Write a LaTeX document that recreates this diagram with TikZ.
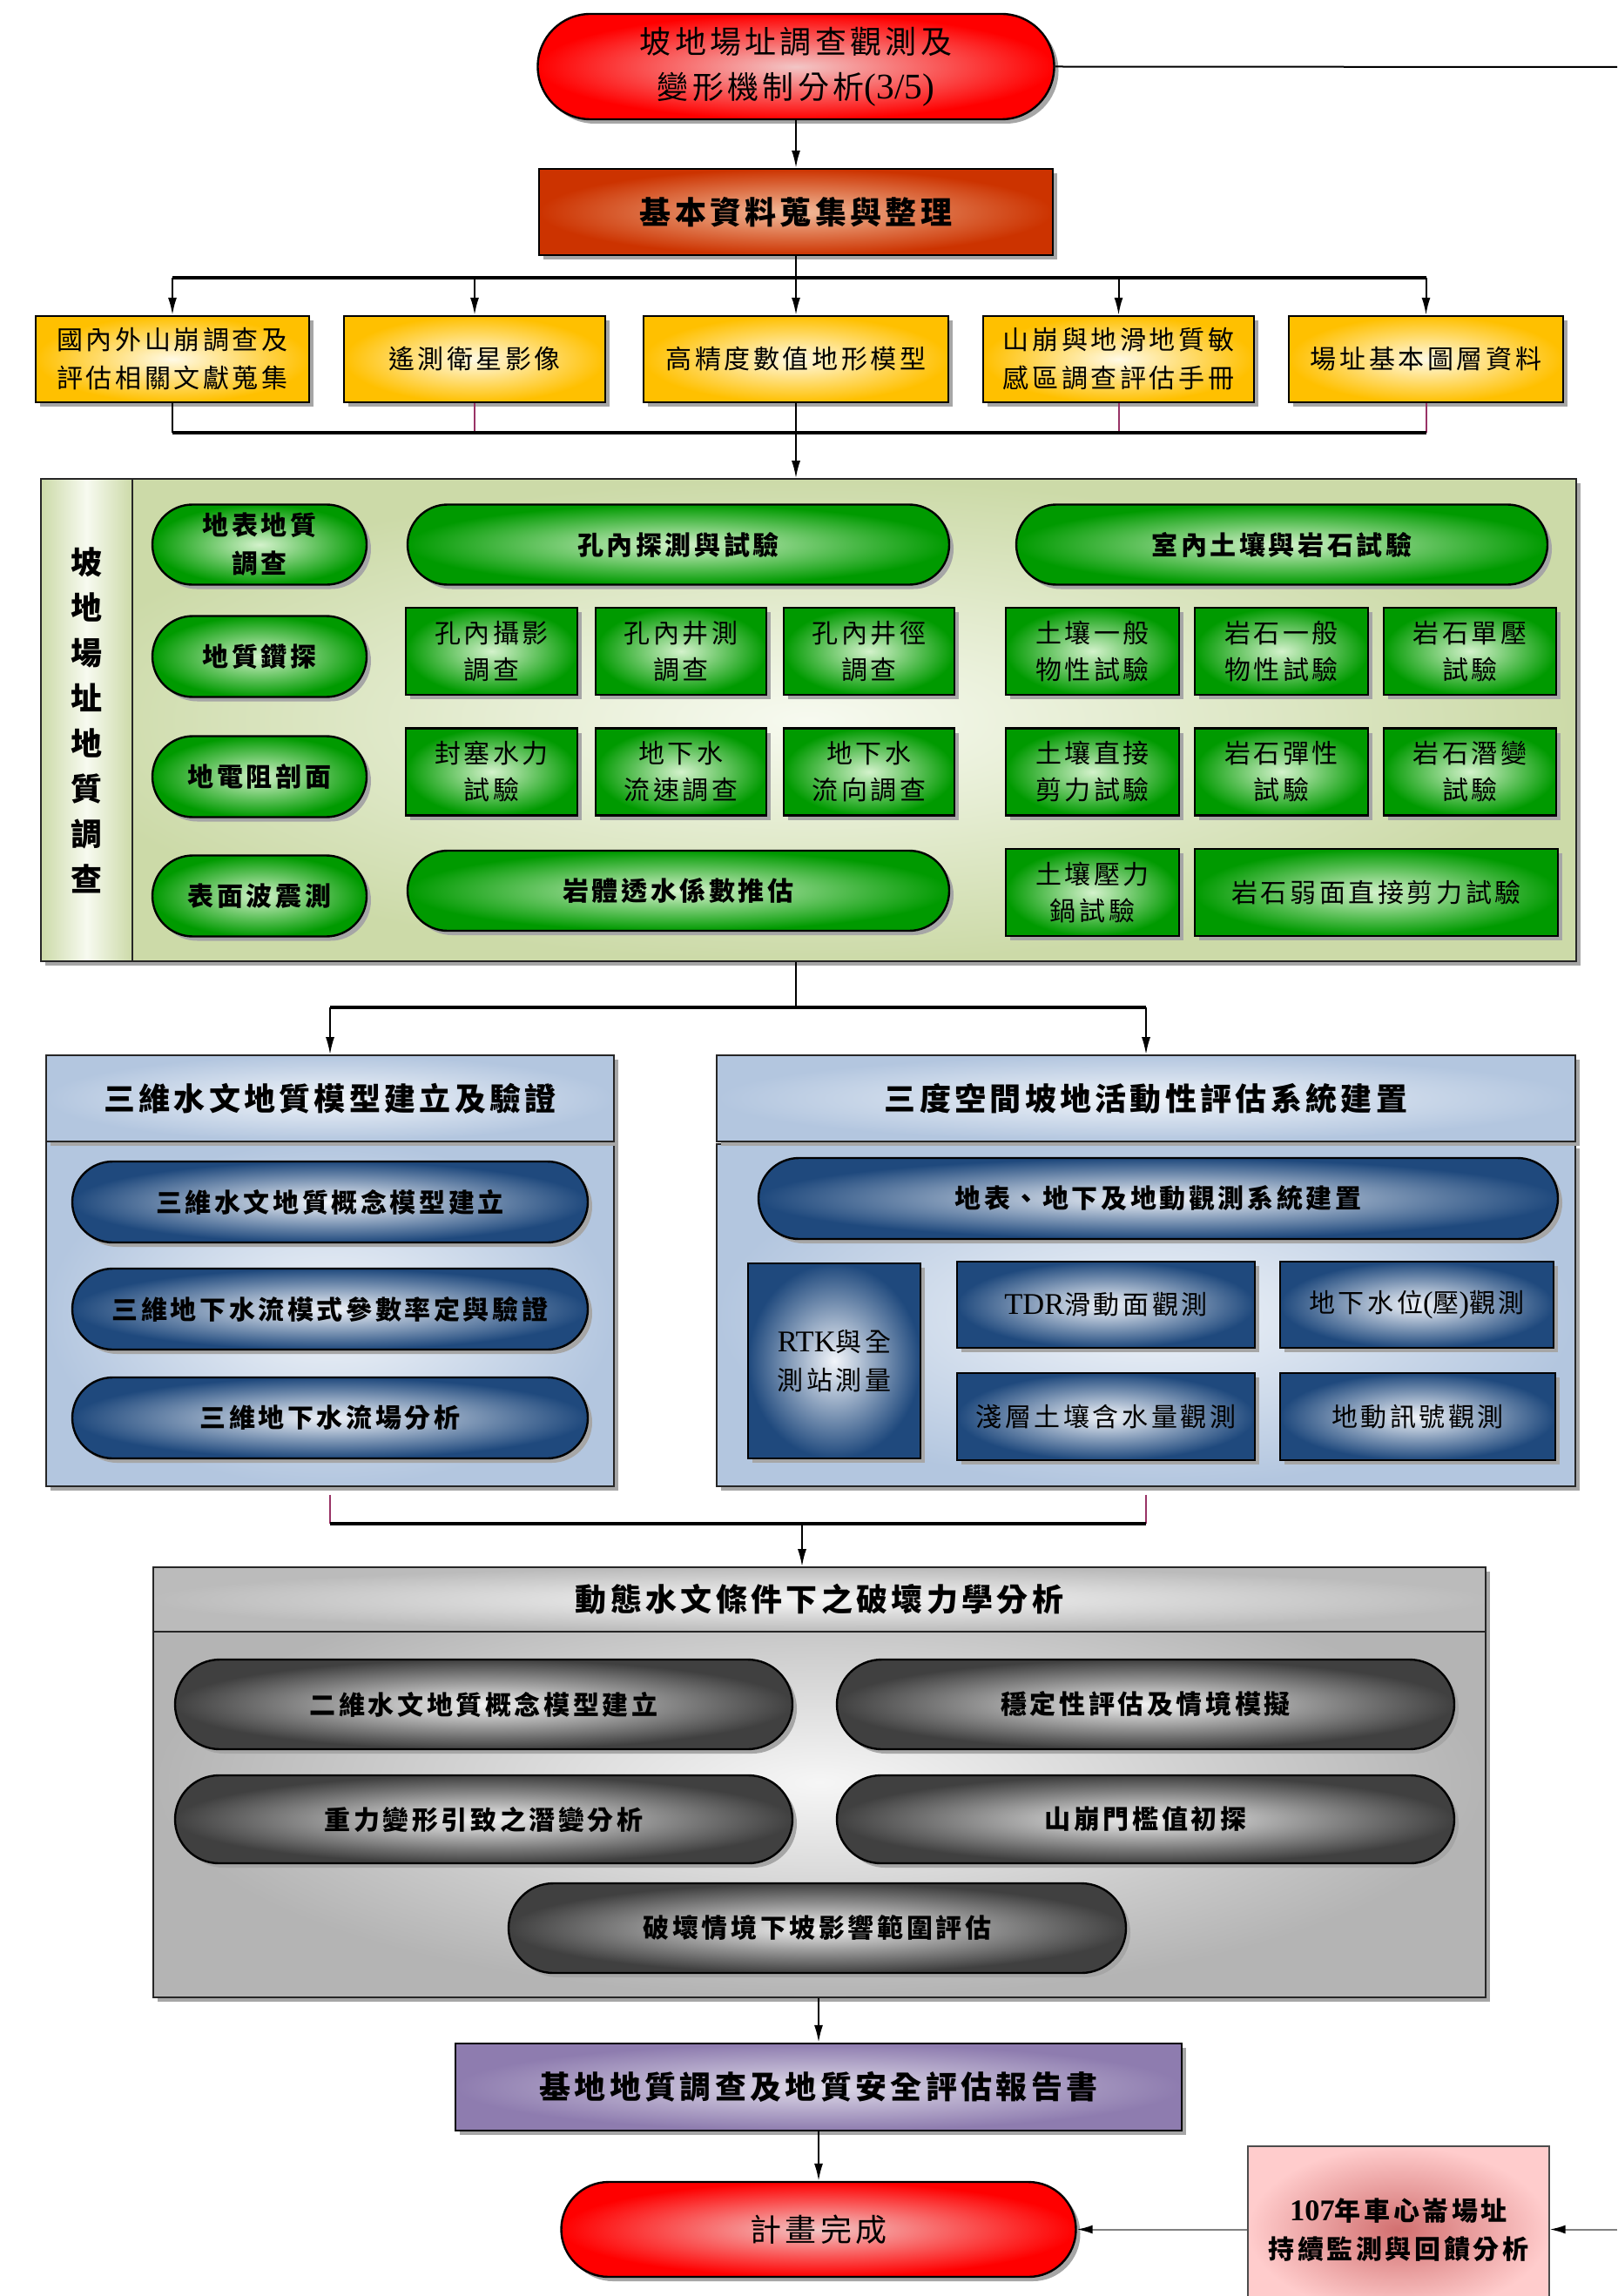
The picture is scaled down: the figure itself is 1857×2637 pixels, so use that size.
\documentclass[tikz,border=0pt]{standalone}
\usepackage{fontspec}
\setmainfont{Liberation Serif}
\newfontfamily\cjk[LetterSpace=12]{Noto Sans CJK TC}
\newfontfamily\latf[Scale=1.15]{Liberation Serif}
\usetikzlibrary{shapes.misc,shadows,arrows.meta}
\newcommand\fsmall{\cjk\fontsize{15pt}{22pt}\selectfont}
\newcommand\fsmallb{\fsmall\bfseries}
\newcommand\fgreen{\cjk\fontsize{15pt}{21pt}\selectfont}
\newcommand\fbig{\cjk\fontsize{18pt}{26pt}\selectfont}
\newcommand\fbigb{\fbig\bfseries}
\definecolor{redout}{HTML}{FF0000}
\definecolor{redin}{HTML}{F2C6C6}
\definecolor{orout}{HTML}{CC3300}
\definecolor{orin}{HTML}{F2BC9C}
\definecolor{yout}{HTML}{FFC000}
\definecolor{yin}{HTML}{FFFAE6}
\definecolor{gpout}{HTML}{CCDAA8}
\definecolor{gpin}{HTML}{F7FAF0}
\definecolor{gout}{HTML}{009A00}
\definecolor{gin}{HTML}{D4F2CC}
\definecolor{bpout}{HTML}{B3C6DF}
\definecolor{bpin}{HTML}{F0F4F9}
\definecolor{bout}{HTML}{1F497D}
\definecolor{bin}{HTML}{F2F5FA}
\definecolor{kpout}{HTML}{B4B4B4}
\definecolor{kpin}{HTML}{F6F6F6}
\definecolor{kout}{HTML}{404040}
\definecolor{kin}{HTML}{F2F2F2}
\definecolor{puout}{HTML}{8E7CAF}
\definecolor{puin}{HTML}{DEDAE8}
\definecolor{piout}{HTML}{FFCCCC}
\definecolor{piin}{HTML}{D27070}
\definecolor{mag}{HTML}{993366}
\begin{document}
\begin{tikzpicture}[x=0.5pt,y=-0.5pt,
  px/.style 2 args={minimum width=#1*0.5pt,minimum height=#2*0.5pt},
  shad/.style={drop shadow={shadow xshift=2.5pt,shadow yshift=-2.5pt,fill=black!35,opacity=1}},
  bbase/.style={draw=black,line width=1.2pt,inner sep=0pt,align=center,text=black,shad},
  panel/.style={draw=black!85,line width=0.8pt,inner sep=0pt,align=center,shad},
  redst/.style={bbase,rounded rectangle,inner color=redin,outer color=redout,font=\fbig},
  orbox/.style={bbase,rectangle,inner color=orin,outer color=orout,font=\fbigb},
  ybox/.style={bbase,rectangle,inner color=yin,outer color=yout,font=\fsmall},
  gst/.style={bbase,rounded rectangle,inner color=gin,outer color=gout,font=\fsmallb},
  grc/.style={bbase,rectangle,inner color=gin,outer color=gout,font=\fgreen},
  bhd/.style={panel,rectangle,inner color=bpin,outer color=bpout,font=\fbigb},
  bpn/.style={panel,rectangle,inner color=bpin,outer color=bpout},
  bst/.style={bbase,rounded rectangle,inner color=bin,outer color=bout,font=\fsmallb},
  brc/.style={bbase,rectangle,inner color=bin,outer color=bout,font=\fsmall},
  kpn/.style={panel,rectangle,inner color=kpin,outer color=kpout},
  khd/.style={draw=black!85,line width=0.8pt,inner sep=0pt,rectangle,inner color=kpin,outer color=kpout!90,font=\fbigb},
  kst/.style={bbase,rounded rectangle,inner color=kin,outer color=kout,font=\fsmallb},
  pubox/.style={bbase,rectangle,inner color=puin,outer color=puout,font=\fbigb},
  conn/.style={line width=1pt,draw=black},
  arr/.style={conn,-{Latex[length=10pt,width=5pt]}},
  hline/.style={line width=1.6pt,draw=black},
  mline/.style={line width=1pt,draw=mag},
  garr/.style={line width=1pt,draw=black!50,-{Latex[length=9pt,width=5pt,black]}}
]
\useasboundingbox (0,0) rectangle (1857,2637);
\fill[white] (0,0) rectangle (1857,2637);

% top
\node[redst,px={593}{121}] (start) at (914,76.5) {坡地場址調查觀測及\\變形機制分析{\latf (3/5)}};
\coordinate (te) at (1857,77);
\draw[conn] (start.east) -- (te);
\node[orbox,px={590}{99}] (basic) at (914,243.5) {基本資料蒐集與整理};
\draw[arr] (start.south) -- (basic.north);

% yellow row
\node[ybox,px={314}{99}] (y1) at (198,412.5) {國內外山崩調查及\\評估相關文獻蒐集};
\node[ybox,px={300}{99}] (y2) at (545,412.5) {遙測衛星影像};
\node[ybox,px={350}{99}] (y3) at (914,412.5) {高精度數值地形模型};
\node[ybox,px={311}{99}] (y4) at (1284.5,412.5) {山崩與地滑地質敏\\感區調查評估手冊};
\node[ybox,px={315}{99}] (y5) at (1637.5,412.5) {場址基本圖層資料};

\coordinate (br) at (914,319);
\draw[conn] (basic.south) -- (br);
\draw[hline] (y1.north |- br) -- (y5.north |- br);
\foreach \n in {y1,y2,y3,y4,y5} \draw[arr] (\n.north |- br) -- (\n.north);

\coordinate (cl) at (914,497);
\draw[conn] (y1.south) -- (y1.south |- cl);
\draw[mline] (y2.south) -- (y2.south |- cl);
\draw[conn] (y3.south) -- (y3.south |- cl);
\draw[mline] (y4.south) -- (y4.south |- cl);
\draw[mline] (y5.south) -- (y5.south |- cl);
\draw[hline] (y1.south |- cl) -- (y5.south |- cl);

% green panel
\node[panel,inner color=gpin,outer color=gpout,px={1763}{554}] (gpan) at (928.5,827) {};
\node[draw=black!85,line width=0.8pt,inner sep=0pt,left color=gpout,right color=gpout,middle color=gpin,px={105}{554},font=\fbigb,align=center] (lcol) at (99.5,827)
  {坡\\地\\場\\址\\地\\質\\調\\查};
\draw[arr] (cl) -- (cl |- gpan.north);

\node[gst,px={246}{92}] (g11) at (298,625.5) {地表地質\\調查};
\node[gst,px={622}{92}] (g12) at (779,625.5) {孔內探測與試驗};
\node[gst,px={610}{92}] (g13) at (1472,625.5) {室內土壤與岩石試驗};

\node[gst,px={246}{93}] (g21) at (298,754) {地質鑽探};
\node[grc,px={197}{100}] (r21) at (564.5,748) {孔內攝影\\調查};
\node[grc,px={196}{100}] (r22) at (782,748) {孔內井測\\調查};
\node[grc,px={196}{100}] (r23) at (998,748) {孔內井徑\\調查};
\node[grc,px={199}{100}] (r24) at (1254.5,748) {土壤一般\\物性試驗};
\node[grc,px={199}{100}] (r25) at (1471.5,748) {岩石一般\\物性試驗};
\node[grc,px={198}{100}] (r26) at (1688,748) {岩石單壓\\試驗};

\node[gst,px={246}{93}] (g31) at (298,892) {地電阻剖面};
\node[grc,px={197}{100}] (r31) at (564.5,886.5) {封塞水力\\試驗};
\node[grc,px={196}{100}] (r32) at (782,886.5) {地下水\\流速調查};
\node[grc,px={196}{100}] (r33) at (998,886.5) {地下水\\流向調查};
\node[grc,px={199}{100}] (r34) at (1254.5,886.5) {土壤直接\\剪力試驗};
\node[grc,px={199}{100}] (r35) at (1471.5,886.5) {岩石彈性\\試驗};
\node[grc,px={198}{100}] (r36) at (1688,886.5) {岩石潛變\\試驗};

\node[gst,px={246}{93}] (g41) at (298,1029) {表面波震測};
\node[gst,px={622}{92}] (g42) at (779,1023) {岩體透水係數推估};
\node[grc,px={199}{100}] (r41) at (1254.5,1025) {土壤壓力\\鍋試驗};
\node[grc,px={417}{100}] (r42) at (1580.5,1025) {岩石弱面直接剪力試驗};

% blue panels
\node[bpn,px={652}{396}] (lbody) at (379,1509) {};
\node[bhd,px={652}{99}] (lhead) at (379,1261.5) {三維水文地質模型建立及驗證};
\node[bpn,px={986}{393}] (rbody) at (1316,1510.5) {};
\node[bhd,px={986}{99}] (rhead) at (1316,1261.5) {三度空間坡地活動性評估系統建置};

\coordinate (c2) at (914,1157);
\draw[conn] (gpan.south -| c2) -- (c2);
\draw[hline] (lhead.north |- c2) -- (rhead.north |- c2);
\draw[arr] (lhead.north |- c2) -- (lhead.north);
\draw[arr] (rhead.north |- c2) -- (rhead.north);

\node[bst,px={592}{93}] (b1) at (379,1380.5) {三維水文地質概念模型建立};
\node[bst,px={592}{93}] (b2) at (379,1503.5) {三維地下水流模式參數率定與驗證};
\node[bst,px={592}{93}] (b3) at (379,1628.5) {三維地下水流場分析};

\node[bst,px={918}{93}] (b4) at (1330,1376.5) {地表、地下及地動觀測系統建置};
\node[brc,px={198}{224}] (rtk) at (958,1563) {{\latf RTK}與全\\測站測量};
\node[brc,px={342}{99}] (tdr) at (1270,1498.5) {{\latf TDR}滑動面觀測};
\node[brc,px={314}{99}] (gwl) at (1627,1498.5) {地下水位{\latf (}壓{\latf )}觀測};
\node[brc,px={342}{100}] (swc) at (1270,1627) {淺層土壤含水量觀測};
\node[brc,px={316}{100}] (gms) at (1628,1627) {地動訊號觀測};

% gray panel
\node[kpn,px={1530}{494}] (kpan) at (941,2047) {};
\node[khd,px={1530}{74}] (khead) at (941,1837) {動態水文條件下之破壞力學分析};

\coordinate (c3) at (921,1750);
\draw[mline] ([yshift=-4.5pt]lbody.south) -- (lbody.south |- c3);
\draw[mline] ([yshift=-4.5pt]rbody.south) -- (rbody.south |- c3);
\draw[hline] (lbody.south |- c3) -- (rbody.south |- c3);
\draw[arr] (c3) -- (c3 |- kpan.north);

\node[kst,px={709}{103}] (k1) at (555.5,1957.5) {二維水文地質概念模型建立};
\node[kst,px={709}{103}] (k2) at (1315.5,1957.5) {穩定性評估及情境模擬};
\node[kst,px={709}{101}] (k3) at (555.5,2089.5) {重力變形引致之潛變分析};
\node[kst,px={709}{101}] (k4) at (1315.5,2089.5) {山崩門檻值初探};
\node[kst,px={709}{103}] (k5) at (938.5,2214.5) {破壞情境下坡影響範圍評估};

% bottom
\node[pubox,px={834}{100}] (pu) at (940,2397) {基地地質調查及地質安全評估報告書};
\draw[arr] (pu.north |- kpan.south) -- (pu.north);
\node[redst,px={591}{109}] (endn) at (940,2560.5) {計畫完成};
\draw[arr] (pu.south) -- (endn.north);

\begin{scope}
\clip (0,0) rectangle (1857,2637);
\node[draw=black!70,line width=0.6pt,inner sep=0pt,align=center,rectangle,inner color=piin,outer color=piout,font=\fsmallb,px={346}{192}] (pink) at (1606,2561) {{\latf 107}年車心崙場址\\持續監測與回饋分析};
\end{scope}
\coordinate (re) at (1857,2560.5);
\draw[garr] (pink.west |- endn.east) -- (endn.east);
\draw[garr] (re) -- (re -| pink.east);
\end{tikzpicture}
\end{document}
